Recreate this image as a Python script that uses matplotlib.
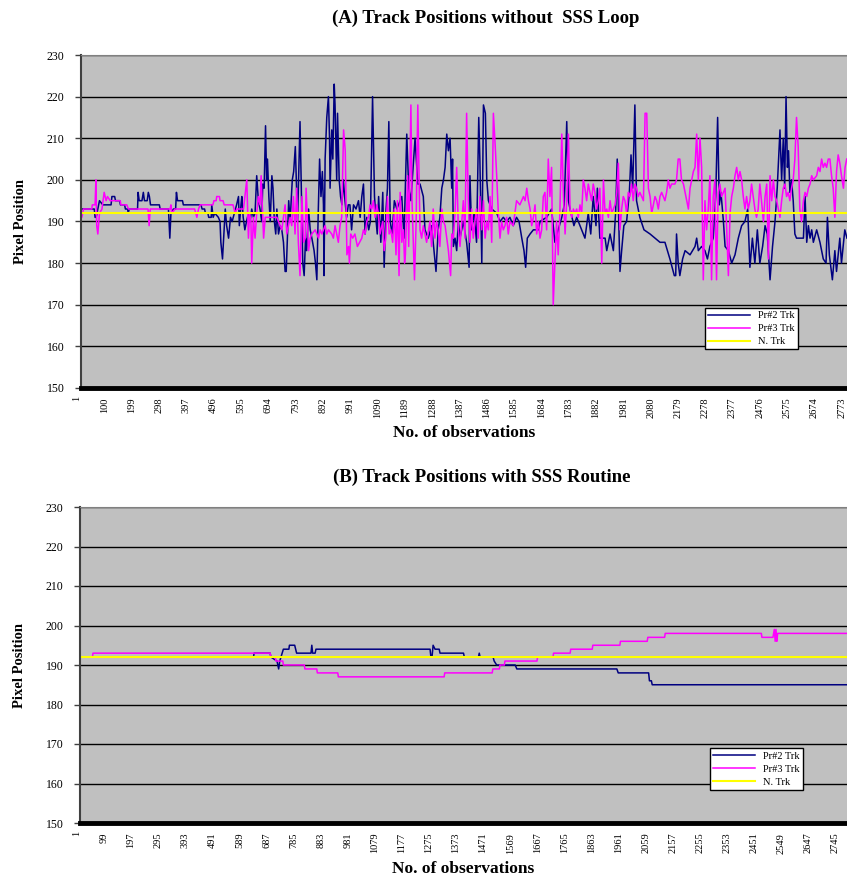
import matplotlib
matplotlib.use("Agg")
import matplotlib.pyplot as plt

plt.rcParams['font.family'] = ['Liberation Serif', 'DejaVu Serif']

pr2_a_obs = [1, 63, 66, 70, 82, 94, 124, 127, 137, 140, 155, 158, 173, 176, 184, 186, 190, 220, 222, 226,
             236, 241, 245, 255, 259, 263, 267, 299, 302, 332, 337, 341, 350, 358, 361, 365, 383, 386, 450, 454,
             463, 466, 475, 478, 487, 489, 494, 500, 513, 519, 522, 528, 533, 538, 543, 550, 557, 563, 567, 579,
             586, 589, 595, 598, 603, 609, 615, 622, 628, 634, 640, 646, 652, 658, 664, 670, 674, 679, 684, 688,
             691, 696, 701, 707, 711, 716, 721, 725, 731, 737, 743, 749, 755, 759, 768, 773, 781, 786, 792, 795,
             800, 803, 809, 813, 819, 824, 829, 833, 840, 846, 852, 860, 865, 870, 875, 880, 885, 890, 894, 896,
             900, 906, 912, 916, 918, 924, 928, 933, 936, 942, 945, 951, 956, 961, 966, 972, 978, 984, 990, 996,
             1003, 1012, 1021, 1027, 1033, 1039, 1045, 1051, 1058, 1064, 1072, 1079, 1085, 1089, 1094, 1102, 1109,
             1114, 1121, 1126, 1131, 1136, 1143, 1151, 1160, 1178, 1186, 1196, 1203, 1211, 1226, 1236,
             1244, 1256, 1262, 1274, 1286, 1302, 1310, 1316, 1323, 1329, 1335, 1341, 1347, 1353, 1359, 1362, 1365,
             1371, 1377, 1383, 1389, 1401, 1413, 1422, 1425, 1431, 1440, 1449, 1457, 1461, 1468, 1474, 1481, 1486,
             1492, 1504, 1522, 1534, 1546, 1558, 1570, 1582, 1594, 1603, 1613, 1621, 1627, 1633, 1643, 1655, 1673,
             1679, 1703, 1721, 1733, 1745, 1758, 1767, 1776, 1782, 1788, 1802, 1812, 1830, 1842, 1854, 1863, 1872,
             1882, 1887, 1896, 1915, 1921, 1933, 1945, 1953, 1959, 1969, 1975, 1983, 1993, 2003, 2009, 2015, 2023,
             2029, 2041, 2056, 2078, 2096, 2114, 2132, 2141, 2150, 2166, 2171, 2174, 2180, 2186, 2196, 2205, 2223,
             2241, 2247, 2253, 2265, 2277, 2286, 2295, 2307, 2316, 2323, 2329, 2335, 2344, 2350, 2362, 2374, 2386,
             2398, 2410, 2422, 2432, 2440, 2449, 2458, 2467, 2476, 2486, 2495, 2503, 2513, 2522, 2531, 2539, 2549,
             2555, 2561, 2566, 2571, 2576, 2580, 2585, 2591, 2597, 2603, 2609, 2621, 2634, 2640, 2646, 2652, 2658,
             2664, 2670, 2682, 2694, 2706, 2716, 2721, 2728, 2739, 2748, 2754, 2766, 2772, 2784, 2792]
pr2_a_pos = [193, 193, 191, 191, 195, 194, 194, 196, 196, 195, 195, 194, 194, 193, 193, 192, 193, 193, 197, 195,
             195, 197, 195, 195, 197, 196, 194, 194, 193, 193, 186, 192, 193, 193, 197, 195, 195, 194, 194, 193,
             193, 192, 192, 191, 191, 194, 191, 192, 191, 190, 185, 181, 187, 193, 189, 186, 191, 190, 191, 194,
             196, 189, 194, 196, 191, 188, 190, 192, 190, 193, 191, 192, 201, 195, 193, 190, 199, 198, 213, 200,
             205, 196, 190, 201, 198, 190, 187, 193, 187, 189, 188, 185, 178, 178, 195, 190, 200, 202, 208, 201,
             190, 198, 214, 200, 180, 177, 186, 183, 193, 188, 186, 183, 180, 176, 192, 205, 196, 202, 194, 177,
             205, 215, 220, 210, 198, 212, 205, 223, 218, 200, 216, 200, 196, 194, 200, 195, 191, 194, 194, 188,
             194, 193, 195, 191, 196, 199, 187, 191, 188, 190, 220, 196, 190, 187, 196, 185, 197,
             179, 193, 198, 214, 190, 187, 195, 193, 196, 186, 211, 198, 195, 210, 199,
             199, 196, 188, 186, 189, 178, 188, 191, 198, 200, 203, 211, 207, 210, 198, 205, 184,
             186, 183, 190, 186, 190, 185, 179, 201, 188, 192, 185, 215, 205, 180, 218, 216, 200,
             195, 193, 192, 190, 191, 190, 191, 189, 191, 190, 186, 183, 179, 186, 187, 188, 188,
             190, 191, 193, 185, 188, 191, 194, 214, 195, 193, 189, 191, 188, 186, 192, 187, 196,
             189, 198, 186, 186, 183, 187, 183, 192, 205, 178, 183, 189, 190, 197, 206, 198, 218,
             195, 191, 188, 187, 186, 185, 185, 183, 181, 177, 177, 187, 180, 177, 181, 183, 182,
             184, 186, 183, 184, 183, 181, 184, 186, 196, 215, 194, 197, 190, 184, 183, 180, 182,
             186, 189, 190, 193, 179, 186, 180, 188, 180, 184, 189, 187, 176, 184, 190, 198, 212,
             200, 210, 198, 220, 203, 207, 197, 200, 195, 187, 186, 186, 186, 196, 185, 189, 186,
             188, 185, 188, 185, 181, 180, 191, 182, 176, 183, 178, 186, 180, 188, 186]

pr3_a_obs = [1, 18, 24, 54, 56, 66, 69, 72, 76, 82, 91, 99, 106, 111, 121, 157, 160, 181, 187, 258, 262, 266,
             338, 341, 344, 356, 427, 435, 441, 447, 493, 497, 505, 507, 517, 519, 530, 534, 566, 574, 580, 604,
             616, 622, 626, 631, 634, 640, 646, 652, 658, 664, 668, 677, 683, 725, 737, 743, 749, 755, 761, 773,
             779, 785, 791, 797, 803, 809, 816, 822, 828, 831, 840, 846, 852, 864, 876, 882, 888, 900, 906, 912,
             924, 930, 936, 942, 948, 954, 960, 967, 973, 979, 985, 988, 993, 1000, 1008, 1017, 1025, 1033, 1039,
             1045, 1051, 1057, 1063, 1069, 1075, 1081, 1087, 1093, 1099, 1109, 1114, 1120, 1126, 1132, 1138, 1145,
             1151, 1157, 1162, 1168, 1172, 1178, 1184, 1188, 1191, 1199, 1203, 1211, 1215, 1224, 1230, 1236,
             1244, 1250, 1256, 1268, 1280, 1286, 1292, 1298, 1304, 1310, 1316, 1323, 1329, 1335, 1341, 1347,
             1355, 1359, 1365, 1371, 1377, 1383, 1389, 1401, 1407, 1413, 1419, 1425, 1431, 1437, 1443, 1449,
             1455, 1461, 1468, 1474, 1480, 1486, 1492, 1498, 1504, 1510, 1516, 1522, 1528, 1534, 1540, 1546,
             1552, 1558, 1564, 1570, 1582, 1594, 1606, 1619, 1625, 1631, 1637, 1643, 1649, 1655, 1661, 1667,
             1673, 1679, 1685, 1691, 1697, 1703, 1709, 1715, 1721, 1727, 1733, 1739, 1745, 1751, 1758, 1764,
             1770, 1776, 1782, 1788, 1794, 1800, 1806, 1812, 1818, 1824, 1830, 1836, 1842, 1848, 1854, 1860,
             1866, 1872, 1878, 1884, 1890, 1896, 1903, 1909, 1915, 1921, 1927, 1933, 1939, 1945, 1951, 1957,
             1963, 1969, 1975, 1981, 1987, 1993, 1999, 2005, 2011, 2017, 2023, 2029, 2035, 2041, 2054, 2060,
             2066, 2072, 2078, 2084, 2090, 2096, 2102, 2108, 2114, 2120, 2132, 2138, 2144, 2150, 2156, 2168,
             2174, 2180, 2186, 2192, 2199, 2205, 2211, 2217, 2223, 2229, 2235, 2241, 2247, 2253, 2259, 2265,
             2271, 2277, 2283, 2289, 2295, 2301, 2307, 2313, 2319, 2325, 2331, 2337, 2344, 2350, 2356, 2362,
             2368, 2374, 2380, 2386, 2392, 2398, 2404, 2410, 2416, 2422, 2428, 2434, 2440, 2446, 2452, 2458,
             2464, 2470, 2476, 2482, 2489, 2495, 2501, 2507, 2513, 2519, 2525, 2531, 2537, 2549, 2555, 2561,
             2567, 2573, 2579, 2585, 2591, 2597, 2603, 2609, 2615, 2621, 2627, 2634, 2640, 2646, 2652, 2658,
             2664, 2670, 2682, 2688, 2694, 2700, 2706, 2712, 2718, 2724, 2730, 2736, 2742, 2748, 2754, 2760,
             2766, 2772, 2779, 2785, 2791]
pr3_a_pos = [192, 191, 193, 193, 194, 194, 200, 189, 187, 192, 193, 197, 195, 196, 195, 195, 194, 194, 193, 193, 189, 193,
             193, 194, 192, 193, 193, 191, 193, 194, 194, 195, 195, 196, 196, 195, 195, 194, 194, 192, 193, 193,
             200, 186, 192, 190, 180, 191, 186, 192, 196, 194, 201, 186, 191, 191, 189, 188, 191, 194, 187, 191,
             189, 196, 187, 198, 185, 177, 196, 185, 186, 198, 183, 186, 187, 188, 186, 188, 187, 189, 187, 188,
             187, 186, 189, 187, 185, 189, 191, 212, 207, 182, 184, 180, 187, 186, 187, 184, 185, 186, 188,
             187, 190, 191, 194, 193, 195, 191, 194, 192, 187, 190, 183, 186, 196, 187, 188, 185,
             193, 182, 195, 177, 197, 185, 188, 180, 182, 201, 184, 218, 195, 176, 190, 218,
             188, 186, 189, 185, 190, 184, 193, 186, 190, 188, 184, 193, 190, 189, 186, 183,
             177, 187, 186, 192, 203, 188, 184, 195, 186, 216, 195, 185, 193, 186, 190, 193,
             186, 196, 188, 195, 186, 190, 188, 196, 185, 216, 209, 201, 192, 186, 190, 188,
             189, 191, 187, 190, 189, 195, 194, 196, 195, 198, 195, 193, 189, 191, 194, 187,
             190, 186, 188, 196, 197, 188, 205, 196, 203, 170, 180, 190, 182, 192, 211, 196,
             187, 195, 211, 193, 191, 193, 192, 193, 191, 194, 192, 200, 198, 195, 199, 197,
             195, 199, 197, 193, 195, 198, 180, 200, 192, 193, 191, 195, 192, 193, 194, 197,
             204, 188, 193, 196, 195, 192, 197, 196, 199, 195, 199, 198, 196, 197, 195, 216,
             216, 198, 196, 192, 194, 196, 195, 193, 196, 197, 195, 197, 200, 198, 199, 199,
             200, 205, 205, 200, 199, 197, 195, 193, 198, 200, 202, 203, 211, 200, 210, 203,
             176, 195, 188, 193, 201, 176, 196, 200, 176, 197, 199, 196, 197, 198, 188, 177,
             192, 196, 198, 201, 203, 200, 202, 200, 196, 193, 196, 193, 195, 199, 196, 193,
             191, 193, 199, 195, 190, 196, 199, 181, 201, 195, 200, 196, 195, 191, 195, 198,
             199, 196, 197, 195, 198, 200, 205, 215, 208, 193, 190, 195, 197, 196, 198, 199,
             201, 200, 201, 203, 202, 205, 203, 204, 203, 205, 205, 201, 198, 191, 202, 206,
             204, 201, 198, 203, 205]

# (B) with SSS routine
pr2_b_obs = [1, 640, 642, 700, 703, 725, 731, 735, 748, 768, 770, 789, 796, 848, 851, 854, 863, 866, 1279, 1282,
             1286, 1290, 1297, 1312, 1315, 1400, 1403, 1454, 1457, 1460, 1507, 1511, 1520, 1587, 1593, 1955, 1960,
             2070, 2073, 2080, 2083, 2788]
pr2_b_pos = [192, 192, 193, 193, 192, 191, 189, 191, 194, 194, 195, 195, 193, 193, 195, 193, 193, 194, 194, 192,
             192, 195, 194, 194, 193, 193, 192, 192, 193, 192, 192, 191, 190, 190, 189, 189, 188,
             188, 186, 186, 185, 185]

pr3_b_obs = [1, 57, 59, 700, 703, 719, 721, 746, 748, 824, 826, 869, 871, 945, 947, 1330, 1332, 1504, 1506, 1530,
             1532, 1548, 1550, 1666, 1668, 1724, 1726, 1786, 1788, 1866, 1868, 1966, 1968, 2065, 2067, 2128, 2130,
             2478, 2480, 2520, 2525, 2528, 2531, 2534, 2537, 2788]
pr3_b_pos = [192, 192, 193, 193, 192, 192, 191, 191, 190, 190, 189, 189, 188, 188, 187, 187, 188, 188, 189, 189,
             190, 190, 191, 191, 192, 192, 193, 193, 194, 194, 195, 195, 196, 196, 197, 197, 198,
             198, 197, 197, 199, 196, 199, 196, 198, 198]

n_trk = 192

ticks_a = [100, 199, 298, 397, 496, 595, 694, 793, 892, 991, 1090, 1189, 1288, 1387, 1486, 1585, 1684, 1783,
           1882, 1981, 2080, 2179, 2278, 2377, 2476, 2575, 2674, 2773]
ticks_b = [99, 197, 295, 393, 491, 589, 687, 785, 883, 981, 1079, 1177, 1275, 1373, 1471, 1569, 1667, 1765,
           1863, 1961, 2059, 2157, 2255, 2353, 2451, 2549, 2647, 2745]

NAVY = "#000080"
MAGENTA = "#FF00FF"
YELLOW = "#FFFF00"

fig = plt.figure(figsize=(8.47, 8.75), dpi=100)
ax1 = fig.add_axes([81 / 847, 487 / 875, 766 / 847, 333 / 875])
ax2 = fig.add_axes([80 / 847, 52 / 875, 767 / 847, 316 / 875])


def style_axes(ax, ticks, xlim, legend_anchor):
    ax.set_facecolor("#C0C0C0")
    ax.set_ylim(150, 230)
    ax.set_xlim(*xlim)
    ax.set_yticks(range(150, 231, 10))
    ax.yaxis.grid(True, color="black", linewidth=1.0)
    ax.set_axisbelow(True)
    ax.set_xticks(ticks)
    ax.set_xticklabels([str(t) for t in ticks], rotation=90, fontsize=7.5)
    ax.tick_params(axis="x", length=0, pad=7)
    ax.tick_params(axis="y", length=4, width=1, labelsize=8.5, pad=8, color="#404040")
    ax.text(1, -0.025, "1", transform=ax.get_xaxis_transform(), rotation=90,
            fontsize=7.5, ha="center", va="top", clip_on=False)
    ax.spines["right"].set_visible(False)
    ax.spines["top"].set_color("#808080")
    ax.spines["left"].set_color("#404040")
    ax.spines["left"].set_linewidth(1.5)
    ax.spines["bottom"].set_linewidth(3.5)
    ax.spines["bottom"].set_color("black")
    ax.set_ylabel("Pixel Position", fontsize=10.5, fontweight="bold", labelpad=14)
    ax.set_xlabel("No. of observations", fontsize=12.5, fontweight="bold", labelpad=5)
    leg = ax.legend(loc="upper right", bbox_to_anchor=legend_anchor, fontsize=7.5, frameon=True,
                    fancybox=False, framealpha=1, edgecolor="black", handlelength=4.0,
                    borderpad=0.3, labelspacing=0.35, handletextpad=0.8)
    leg.get_frame().set_linewidth(1.0)


ax1.plot(pr2_a_obs, pr2_a_pos, color=NAVY, linewidth=1.1, label="Pr#2 Trk")
ax1.plot(pr3_a_obs, pr3_a_pos, color=MAGENTA, linewidth=1.1, label="Pr#3 Trk")
ax1.axhline(n_trk, color=YELLOW, linewidth=1.5, label="N. Trk")
style_axes(ax1, ticks_a, (15, 2792), (0.943, 0.256))

ax2.plot(pr2_b_obs, pr2_b_pos, color=NAVY, linewidth=1.1, label="Pr#2 Trk")
ax2.plot(pr3_b_obs, pr3_b_pos, color=MAGENTA, linewidth=1.1, label="Pr#3 Trk")
ax2.axhline(n_trk, color=YELLOW, linewidth=1.5, label="N. Trk")
style_axes(ax2, ticks_b, (12, 2788), (0.949, 0.253))

fig.text(486 / 847, 1 - 18 / 875, "(A) Track Positions without  SSS Loop", ha="center", va="center",
         fontsize=13.5, fontweight="bold")
fig.text(482 / 847, 1 - 477 / 875, "(B) Track Positions with SSS Routine", ha="center", va="center",
         fontsize=13.5, fontweight="bold")

fig.savefig("out.png", dpi=100)
